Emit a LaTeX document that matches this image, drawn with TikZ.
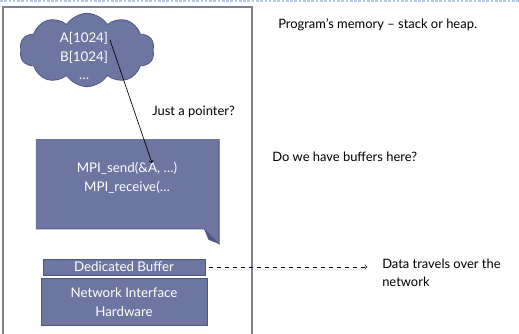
\documentclass[tikz,border=0pt]{standalone}
\usepackage{fontspec}
\setmainfont{Lato}
\usetikzlibrary{positioning,shapes.symbols,calc}

\definecolor{slate}{RGB}{108,118,160}
\definecolor{slateline}{RGB}{78,88,130}
\definecolor{framegray}{RGB}{125,128,155}
\definecolor{toplineblue}{RGB}{180,203,225}

\begin{document}
\begin{tikzpicture}[
    x=0.75pt, y=-0.75pt,
    font=\fontsize{9.7}{13}\selectfont,
    box/.style={fill=slate, draw=slateline, line width=0.6pt,
                text=white, align=center, inner sep=0pt,
                font=\fontsize{10}{14}\selectfont},
    note/.style={align=left, inner sep=0pt},
    pointer/.style={->, >=to, line width=0.5pt}
]
\useasboundingbox (0,0) rectangle (519,334);

% top rule and memory frame
\draw[toplineblue, line width=0.8pt, dash pattern=on 2pt off 1.2pt] (0,1) -- (519,1);
\draw[framegray, line width=1pt] (3,334) -- (3,7) -- (252,7) -- (252,334);

% program data
\node[box, cloud, cloud puffs=10, cloud puff arc=115, aspect=1.8,
      minimum width=101pt, minimum height=55pt] (heap) at (87,50) {};
\node[text=white, align=center, inner sep=0pt,
      font=\fontsize{10}{14}\selectfont] (vars) at (84,56)
    {A[1024]\\B[1024]\\\ldots};
\coordinate (aref) at (110,40);

% call box with folded corner
\node[minimum width=137pt, minimum height=67pt, inner sep=0pt] (calls) at (127.5,184) {};
\fill[slate] (calls.north west) -- (calls.north east)
    -- ($(calls.south east)+(0,-11.25pt)$) -- ($(calls.south east)+(-11.25pt,0)$)
    -- (calls.south west) -- cycle;
\draw[slateline, line width=0.6pt] (calls.north east)
    -- ($(calls.south east)+(0,-11.25pt)$) -- ($(calls.south east)+(-11.25pt,0)$)
    -- (calls.south west);
\fill[slateline] ($(calls.south east)+(0,-11.25pt)$)
    .. controls ($(calls.south east)+(-6pt,-9pt)$) .. ($(calls.south east)+(-8pt,-8pt)$)
    -- ($(calls.south east)+(-11.25pt,0)$) -- cycle;
\node[text=white, align=center, inner sep=0pt,
      font=\fontsize{10}{14}\selectfont] (mpi) at (127,178)
    {MPI\_send(\&A, \ldots)\\MPI\_receive(\ldots};
\coordinate (sendA) at (152,163);

% network card
\node[box, minimum width=121.5pt, minimum height=12pt] (buf) at (124,267) {Dedicated Buffer};
\node[box, minimum width=124.5pt, minimum height=35pt] (nic) at (124,302)
    {Network Interface\\Hardware};

% remarks
\node[note, anchor=west] (memnote) at (278,25) {Program’s memory -- stack or heap.};
\node[note, anchor=west] (ptrnote) at (152,112) {Just a pointer?};
\node[note, anchor=west] (bufnote) at (272,157) {Do we have buffers here?};
\node[note, anchor=north west] (netnote) at (382,259) {Data travels over the\\network};

\draw[pointer] (aref) -- (sendA);
\draw[pointer, dashed] (buf.east) ++(3pt,0) -- ($(buf.east -| netnote.west)+(-11pt,0)$);

\end{tikzpicture}
\end{document}
